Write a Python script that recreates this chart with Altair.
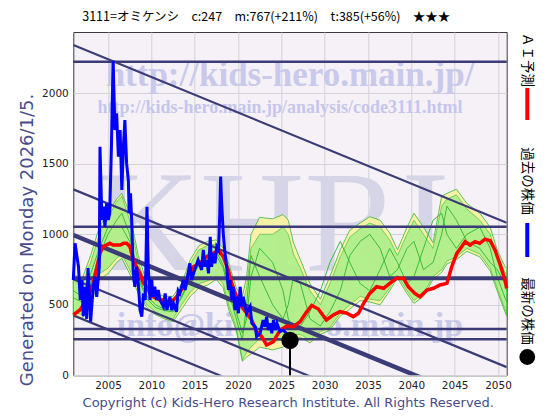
import altair as alt
import pandas as pd

# ---------------- data ----------------
blue_years = [2001.0, 2001.2, 2001.6, 2001.8, 2002.0, 2002.15, 2002.35, 2002.55, 2002.7, 2002.85,
              2003.0, 2003.3, 2003.5, 2003.7, 2004.0, 2004.08, 2004.3, 2004.5, 2004.65, 2004.85,
              2005.04, 2005.2, 2005.4, 2005.5, 2005.6, 2005.8, 2006.0, 2006.2, 2006.4, 2006.6,
              2006.8, 2006.95, 2007.15, 2007.35, 2007.45, 2007.6, 2007.75, 2007.9, 2008.1, 2008.3,
              2008.5, 2008.7, 2008.9, 2009.1, 2009.3, 2009.5, 2009.65, 2009.85, 2010.05, 2010.2,
              2010.4, 2010.6, 2010.8, 2011.0, 2011.4, 2011.6, 2011.8, 2012.15, 2012.35, 2012.55,
              2012.9, 2013.1, 2013.3, 2013.7, 2013.9, 2014.25, 2014.45, 2014.65, 2015.0, 2015.4,
              2015.8, 2016.0, 2016.2, 2016.4, 2016.6, 2016.8, 2016.95, 2017.15, 2017.35, 2017.55,
              2017.75, 2017.9, 2018.0, 2018.1, 2018.3, 2018.5, 2018.7, 2018.9, 2019.1, 2019.3,
              2019.45, 2019.65, 2019.85, 2020.05, 2020.25, 2020.45, 2020.6, 2021.0, 2021.4, 2021.6,
              2022.0, 2022.15, 2022.55, 2022.9, 2023.1, 2023.3, 2023.5, 2023.7, 2023.9, 2024.1,
              2024.3, 2024.5, 2024.85, 2025.2, 2025.6, 2026.0]
blue_vals = [676, 936, 770, 534, 676, 420, 628, 400, 760, 581,
             380, 628, 699, 557, 770, 1621, 1101, 1196, 1054, 1220,
             1101, 1149, 1621, 1952, 2231, 1740, 1858, 1550, 1740, 1314,
             1645, 1811, 1503, 1385, 1149, 1291, 1078, 747, 628, 770,
             652, 463, 416, 581, 534, 1196, 770, 534, 676, 557,
             628, 534, 605, 534, 487, 581, 463, 557, 463, 511,
             450, 600, 581, 676, 605, 723, 794, 676, 747, 818,
             747, 889, 770, 818, 723, 983, 770, 865, 794, 912,
             889, 1149, 1410, 1243, 1007, 865, 770, 605, 676, 534,
             628, 463, 557, 440, 628, 487, 557, 440, 487, 369,
             345, 274, 298, 392, 345, 416, 321, 369, 298, 392,
             321, 369, 309, 321, 298, 247]

red_years = [2001.0, 2001.77, 2002.55, 2003.3, 2004.08, 2004.46, 2005.2, 2005.6, 2006.0, 2006.4,
             2006.8, 2007.16, 2007.54, 2007.92, 2008.3, 2008.7, 2009.1, 2009.47, 2009.85, 2010.23,
             2011.0, 2011.4, 2012.15, 2012.93, 2013.7, 2014.27, 2014.85, 2015.62, 2016.4, 2017.15,
             2017.73, 2018.3, 2018.88, 2019.28, 2019.85, 2020.43, 2021.0, 2021.58, 2022.16, 2022.74,
             2023.3, 2024.08, 2024.85, 2025.62, 2026.38, 2027.16, 2027.93, 2028.5, 2029.27, 2030.2,
             2031.0, 2031.77, 2032.55, 2033.3, 2033.9, 2034.5, 2035.2, 2036.0, 2036.8, 2037.5,
             2038.3, 2039.1, 2039.65, 2040.4, 2041.0, 2041.8, 2042.55, 2043.3, 2044.1, 2044.66,
             2045.24, 2045.8, 2046.2, 2046.77, 2047.35, 2047.9, 2048.5, 2049.1, 2049.65, 2050.2,
             2050.8, 2051.0]
red_vals = [428, 463, 534, 652, 865, 912, 936, 924, 924, 924,
            936, 936, 912, 818, 770, 723, 652, 628, 581, 557,
            534, 534, 511, 557, 628, 699, 770, 794, 841, 865,
            889, 841, 747, 652, 557, 487, 440, 392, 309, 274,
            215, 238, 320, 350, 345, 380, 450, 495, 470, 392,
            428, 451, 440, 416, 440, 511, 581, 628, 617, 652,
            688, 688, 628, 581, 557, 605, 617, 641, 652, 770,
            865, 912, 948, 924, 948, 936, 965, 955, 889, 794,
            676, 617]

band_years = [2001, 2002, 2003, 2004, 2005, 2006, 2006.6, 2007.5, 2008.5, 2009.5,
              2010.5, 2011.5, 2012.5, 2013.5, 2014.5, 2015.5, 2016.5, 2017.5, 2018.3, 2019,
              2019.8, 2020.5, 2021, 2021.5, 2022.5, 2024, 2025.2, 2025.8, 2026.4, 2027.2,
              2028.3, 2029.5, 2030.6, 2031.8, 2032.9, 2034.1, 2035.2, 2036.4, 2037.5, 2038.4,
              2039.5, 2040.3, 2041.4, 2042.5, 2043.5, 2044.1, 2045.2, 2046.4, 2047.9, 2049.1,
              2049.9, 2050.8, 2051]
yellow_hi = [720, 680, 850, 1050, 1150, 1250, 1290, 1150, 850, 650,
             580, 560, 560, 650, 820, 920, 950, 960, 900, 780,
             620, 560, 700, 1000, 1120, 1110, 1140, 1100, 940, 820,
             650, 540, 700, 890, 1030, 1080, 1125, 1100, 1010, 890,
             1050, 1150, 1050, 940, 1270, 1290, 1320, 1220, 1150, 1050,
             890, 770, 760]
yellow_lo = [420, 400, 500, 680, 720, 800, 830, 720, 580, 480,
             430, 400, 380, 470, 560, 620, 640, 680, 620, 450,
             320, 100, 130, 150, 200, 180, 200, 230, 260, 270,
             230, 290, 321, 420, 470, 530, 520, 500, 600, 690,
             580, 510, 560, 680, 730, 790, 820, 880, 840, 740,
             600, 450, 420]
green_hi = [680, 640, 800, 1000, 1120, 1230, 1270, 1100, 800, 620,
            560, 540, 540, 620, 790, 890, 920, 930, 860, 740,
            580, 500, 620, 900, 1000, 1000, 1050, 1000, 860, 760,
            600, 500, 650, 840, 980, 1040, 1080, 1050, 960, 850,
            1000, 1100, 1000, 900, 1200, 1250, 1280, 1180, 1100, 1000,
            840, 730, 720]
green_lo = [450, 430, 540, 720, 760, 830, 860, 750, 610, 500,
            450, 420, 400, 500, 590, 650, 670, 700, 650, 480,
            340, 110, 160, 200, 260, 240, 250, 260, 280, 290,
            250, 310, 340, 440, 500, 560, 540, 530, 620, 710,
            600, 530, 580, 700, 750, 810, 840, 900, 860, 760,
            620, 470, 440]
ens_a = [550, 520, 650, 850, 1000, 1100, 1150, 1000, 700, 560,
         500, 470, 460, 560, 700, 800, 860, 880, 780, 620,
         450, 300, 400, 700, 900, 800, 600, 400, 330, 350,
         450, 600, 800, 950, 800, 650, 600, 750, 900, 800,
         650, 700, 900, 1100, 1150, 1000, 900, 1000, 1050, 900,
         700, 550, 520]
ens_b = [600, 560, 720, 900, 1050, 1050, 1050, 950, 680, 540,
         480, 460, 450, 550, 680, 780, 820, 850, 760, 580,
         400, 250, 500, 850, 700, 500, 400, 500, 700, 650,
         400, 350, 450, 600, 850, 950, 1000, 900, 700, 750,
         900, 950, 750, 800, 1000, 1200, 1100, 950, 900, 800,
         750, 650, 600]

thin_levels = [2224, 1054, 328, 255]
thick_levels = [688]
trend_years = [2001, 2051]
thin_trend_start = [2343, 1319, 681, 425]
thin_trend_end = [1082, 58, -580, -836]
thick_trend_start = [995]
thick_trend_end = [-266]

latest_year = [2026.0]
latest_price = [247]

SP = "\u3000"
title_text = "3111=オミケンシ" + SP + "c:247" + SP + "m:767(+211%)" + SP + "t:385(+56%)" + SP + "★★★"

# ---------------- tables ----------------
blue_df = pd.DataFrame({"year": blue_years, "v": blue_vals})
red_df = pd.DataFrame({"year": red_years, "v": red_vals})
band_df = pd.DataFrame({"year": band_years, "yh": yellow_hi, "yl": yellow_lo,
                        "gh": green_hi, "gl": green_lo})
ens_df = pd.concat([
    pd.DataFrame({"year": band_years, "v": ens_a, "id": "a"}),
    pd.DataFrame({"year": band_years, "v": ens_b, "id": "b"}),
])


def trend_table(starts, ends):
    rows = []
    for i, (s, e) in enumerate(zip(starts, ends)):
        rows.append({"year": trend_years[0], "v": s, "id": i})
        rows.append({"year": trend_years[1], "v": e, "id": i})
    return pd.DataFrame(rows)


thin_trend_df = trend_table(thin_trend_start, thin_trend_end)
thick_trend_df = trend_table(thick_trend_start, thick_trend_end)
latest_df = pd.DataFrame({"year": latest_year, "v": latest_price})

# ---------------- scales ----------------
xs = alt.Scale(domain=[2001, 2051], nice=False, zero=False)
ys = alt.Scale(domain=[0, 2435], nice=False, zero=True)
x_axis = alt.Axis(values=list(range(2005, 2051, 5)), format="d", title=None)
y_axis = alt.Axis(values=[0, 500, 1000, 1500, 2000], format="d", title=None)


def X(f="year"):
    return alt.X(f + ":Q", scale=xs, axis=x_axis)


def Y(f):
    return alt.Y(f + ":Q", scale=ys, axis=y_axis)


NAVY = "#3b3b78"
GREEN_LINE = "#2fb52f"


def label(text, x, y, **kw):
    return alt.Chart(pd.DataFrame({"t": [text]})).mark_text(**kw).encode(
        x=alt.value(x), y=alt.value(y), text="t:N")


dummy = pd.DataFrame({"d": [0]})

layers = []
# watermarks
layers.append(label("KHRI", 199, 238, font="Liberation Serif", fontWeight="normal",
                    fontSize=145, color="#d5d5e7", align="center", baseline="alphabetic"))
layers.append(label("http://kids-hero.main.jp/", 216.7, 54, font="Liberation Serif",
                    fontWeight="bold", fontSize=35, color="#c9c9ec", align="center",
                    baseline="alphabetic"))
layers.append(label("http://kids-hero.main.jp/analysis/code3111.html", 206.7, 81,
                    font="Liberation Serif", fontWeight="bold", fontSize=18,
                    color="#c6c6ec", align="center", baseline="alphabetic"))
layers.append(label("info@kids-hero.main.jp", 216.7, 304, font="Liberation Serif",
                    fontWeight="bold", fontSize=34, color="#c9c9ea", align="center",
                    baseline="alphabetic"))

# prediction envelopes
layers.append(alt.Chart(band_df).mark_area(color="#f8f3a4", opacity=0.95,
                                           stroke=GREEN_LINE, strokeWidth=0.8).encode(
    x=X(), y=Y("yh"), y2="yl:Q"))
layers.append(alt.Chart(band_df).mark_area(color="#9eee84", opacity=0.75,
                                           stroke=GREEN_LINE, strokeWidth=0.8).encode(
    x=X(), y=Y("gh"), y2="gl:Q"))
layers.append(alt.Chart(ens_df).mark_line(color=GREEN_LINE, strokeWidth=0.9).encode(
    x=X(), y=Y("v"), detail="id:N"))

# level lines
layers.append(alt.Chart(pd.DataFrame({"v": thin_levels})).mark_rule(
    color=NAVY, strokeWidth=2.5).encode(y=Y("v")))
layers.append(alt.Chart(pd.DataFrame({"v": thick_levels})).mark_rule(
    color=NAVY, strokeWidth=4).encode(y=Y("v")))
layers.append(alt.Chart(thin_trend_df).mark_line(color=NAVY, strokeWidth=2.2, clip=True).encode(
    x=X(), y=Y("v"), detail="id:N"))
layers.append(alt.Chart(thick_trend_df).mark_line(color=NAVY, strokeWidth=4.5, clip=True).encode(
    x=X(), y=Y("v"), detail="id:N"))

# series
layers.append(alt.Chart(red_df).mark_line(color="#ff0000", strokeWidth=3.5).encode(
    x=X(), y=Y("v")))
layers.append(alt.Chart(blue_df).mark_line(color="#0000ff", strokeWidth=3).encode(
    x=X(), y=Y("v")))
layers.append(alt.Chart(latest_df).mark_rule(color="#000000", strokeWidth=2).encode(
    x=X(), y=Y("v"), y2=alt.datum(0)))
layers.append(alt.Chart(latest_df).mark_point(filled=True, shape="circle", size=300,
                                              color="#000000", opacity=1).encode(
    x=X(), y=Y("v")))

# texts around the plot
layers.append(label(title_text, 193, -15, font="Noto Sans CJK JP", fontSize=12.5,
                    color="#000000", align="center", baseline="middle"))
layers.append(label("Generated on Monday 2026/1/5.", -45, 208, font="DejaVu Sans",
                    fontSize=18, color="#4b4b8c", angle=270, align="center",
                    baseline="middle"))
layers.append(label("Copyright (c) Kids-Hero Research Institute. All Rights Reserved.",
                    215, 371, font="DejaVu Sans", fontSize=13, color="#4b4b8c",
                    align="center", baseline="middle"))

LX = 454
layers.append(label("ＡＩ予測", LX, 28, font="Noto Sans CJK JP", fontSize=13.5,
                    color="#000000", angle=90, align="center", baseline="middle"))
layers.append(alt.Chart(dummy).mark_rule(color="#ff0000", strokeWidth=4).encode(
    x=alt.value(LX), y=alt.value(56), y2=alt.value(88)))
layers.append(label("過去の株価", LX, 149, font="Noto Sans CJK JP", fontSize=13.5,
                    color="#000000", angle=90, align="center", baseline="middle"))
layers.append(alt.Chart(dummy).mark_rule(color="#0000ff", strokeWidth=4).encode(
    x=alt.value(LX), y=alt.value(191), y2=alt.value(225)))
layers.append(label("最新の株価", LX, 279, font="Noto Sans CJK JP", fontSize=13.5,
                    color="#000000", angle=90, align="center", baseline="middle"))
layers.append(alt.Chart(dummy).mark_point(filled=True, shape="circle", size=250,
                                          color="#000000", opacity=1).encode(
    x=alt.value(LX), y=alt.value(325)))

chart = alt.layer(*layers).properties(
    width=433.4, height=343.3,
    padding={"left": 65.3, "top": 24, "right": 44, "bottom": 35},
    autosize=alt.AutoSizeParams(type="none"),
    background="#ffffff",
).configure_view(
    fill="#f6f1f6", stroke="#3a3a3a", strokeWidth=1
).configure_axis(
    grid=True, gridColor="#d2d2d8", gridWidth=1, domain=False, ticks=False,
    labelFont="DejaVu Sans", labelFontSize=10.5, labelColor="#222222", labelPadding=5
)

chart.save("out.html", embed_options={"renderer": "svg", "actions": False})
